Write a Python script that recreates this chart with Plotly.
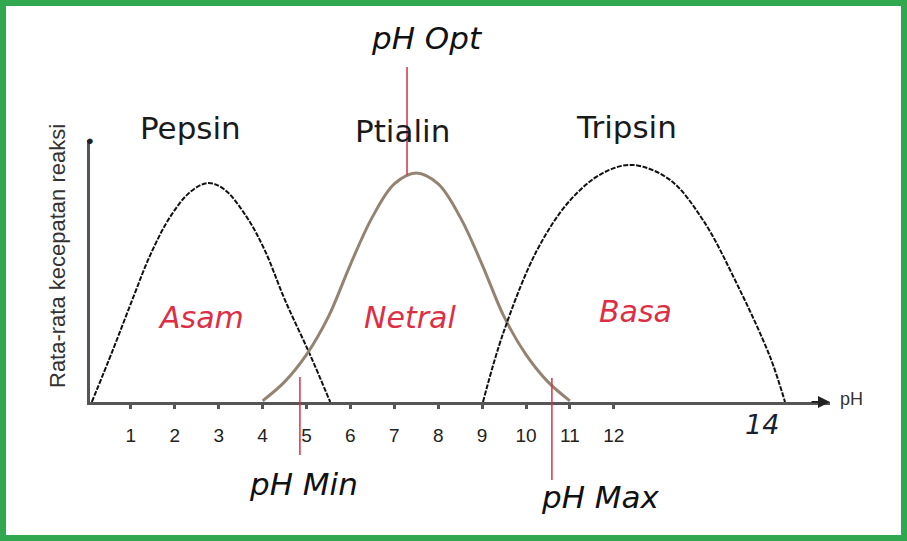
import plotly.graph_objects as go

# ---- data (pH vs relative reaction rate) ----
pepsin_ph   = [0.11, 0.59, 1.05, 1.44, 1.89, 2.35, 2.76, 3.14, 3.64, 4.05, 4.51, 5.08, 5.54]
pepsin_rate = [0, 22, 44, 62, 78, 88.6, 92.4, 89.5, 78, 64, 43, 20, 0]

ptialin_ph   = [4.0, 4.5, 5.0, 5.5, 6.0, 6.5, 7.0, 7.5, 8.0, 8.5, 9.0, 9.5, 10.0, 10.5, 11.0]
ptialin_rate = [0.5, 8.5, 20, 36, 58, 78, 92, 96.6, 92, 78, 58, 36, 20, 8.5, 0.5]

tripsin_ph   = [9.02, 9.48, 10.25, 11.0, 11.75, 12.44, 13.28, 14.03, 14.8, 15.56, 15.9]
tripsin_rate = [0, 29, 64, 85, 96.6, 100, 93.7, 76.8, 50, 19, 0]

tick_vals = [1, 2, 3, 4, 5, 6, 7, 8, 9, 10, 11, 12]
tick_text = [str(v) for v in tick_vals]

enzyme_names = ["Pepsin", "Ptialin", "Tripsin"]
zone_names = ["Asam", "Netral", "Basa"]
marker_names = ["pH Min", "pH Opt", "pH Max"]
marker_ph = [4.85, 7.29, 10.59]
end_label = "14"
x_title = "pH"
y_title = "Rata-rata kecepatan reaksi"

RED = "#dc2f45"
HAND = "DejaVu Sans"
SANS = "Liberation Sans, Arial"

fig = go.Figure()
fig.add_trace(go.Scatter(x=pepsin_ph, y=pepsin_rate, mode="lines", name=enzyme_names[0],
                         line=dict(color="#111111", width=2, dash="5px,1.5px", shape="spline")))
fig.add_trace(go.Scatter(x=ptialin_ph, y=ptialin_rate, mode="lines", name=enzyme_names[1],
                         line=dict(color="#958372", width=3, shape="spline")))
fig.add_trace(go.Scatter(x=tripsin_ph, y=tripsin_rate, mode="lines", name=enzyme_names[2],
                         line=dict(color="#111111", width=2, dash="5px,1.5px", shape="spline")))

# plot-area pixel geometry: x 90..830, y 140..402
L, R, T, B = 90, 77, 140, 139
PW, PH = 907 - L - R, 541 - T - B


def px(xp):
    return (xp - L) / PW


def py(yp):
    return (402 - yp) / PH


def label(text, x, y, size, color, family=HAND, angle=0):
    return dict(text=text, x=px(x), y=py(y), xref="paper", yref="paper", showarrow=False,
                xanchor="center", yanchor="middle", textangle=angle,
                font=dict(family=family, size=size, color=color))


ann = []
for name, (x, y) in zip(enzyme_names, [(190, 128), (402, 131), (626, 127)]):
    ann.append(label(name, x, y, 31, "#1a1a1a"))
for name, (x, y) in zip(zone_names, [(201, 317), (410, 317), (635, 311)]):
    ann.append(label("<i>" + name + "</i>", x, y, 30, RED))
for name, (x, y) in zip(marker_names, [(303, 484), (427, 38), (600, 497)]):
    ann.append(label("<i>" + name + "</i>", x, y, 31, "#111111"))
ann.append(label("<i>" + end_label + "</i>", 762, 424, 27, "#1a2030"))
ann.append(label(x_title, 852, 399, 18, "#333333", family=SANS))
ann.append(label(y_title, 57, 256, 22, "#333333", family=SANS, angle=-90))
# arrow at end of x axis
ann.append(dict(text="", x=1.0, y=0, xref="paper", yref="paper", ax=-20, ay=0,
                showarrow=True, arrowhead=2, arrowsize=1.2, arrowwidth=2, arrowcolor="#222222"))
# dot at top of y axis
ann.append(dict(text="●", x=0, y=1, xref="paper", yref="paper", showarrow=False,
                xanchor="center", yanchor="middle", font=dict(size=13, color="#222222")))

shapes = []
for xv, (y0, y1) in zip(marker_ph, [(377, 455), (67, 175), (378, 480)]):
    shapes.append(dict(type="line", xref="x", yref="paper", x0=xv, x1=xv, y0=py(y0), y1=py(y1),
                       line=dict(color=RED, width=1.5)))
shapes.append(dict(type="rect", xref="paper", yref="paper", x0=px(3), x1=px(904), y0=py(538), y1=py(3),
                   line=dict(color="#31a84f", width=6), layer="above"))

fig.update_layout(
    width=907, height=541,
    margin=dict(l=L, r=R, t=T, b=B),
    paper_bgcolor="white", plot_bgcolor="white",
    showlegend=False,
    annotations=ann, shapes=shapes,
    xaxis=dict(range=[(90 - 87) / 43.9, (830 - 87) / 43.9], tickvals=tick_vals, ticktext=tick_text,
               showgrid=False, zeroline=False, showline=True, linecolor="#555555", linewidth=3,
               ticks="outside", ticklen=4, tickwidth=3, tickcolor="#555555", ticklabelstandoff=10,
               tickfont=dict(family=SANS, size=19, color="#222222")),
    yaxis=dict(range=[0, (402 - 140) / 2.37], showgrid=False, zeroline=False, showticklabels=False,
               showline=True, linecolor="#555555", linewidth=3, ticks=""),
)

fig.write_html("out.html", config={"displayModeBar": False},
               post_script="document.body.style.margin='0';")
